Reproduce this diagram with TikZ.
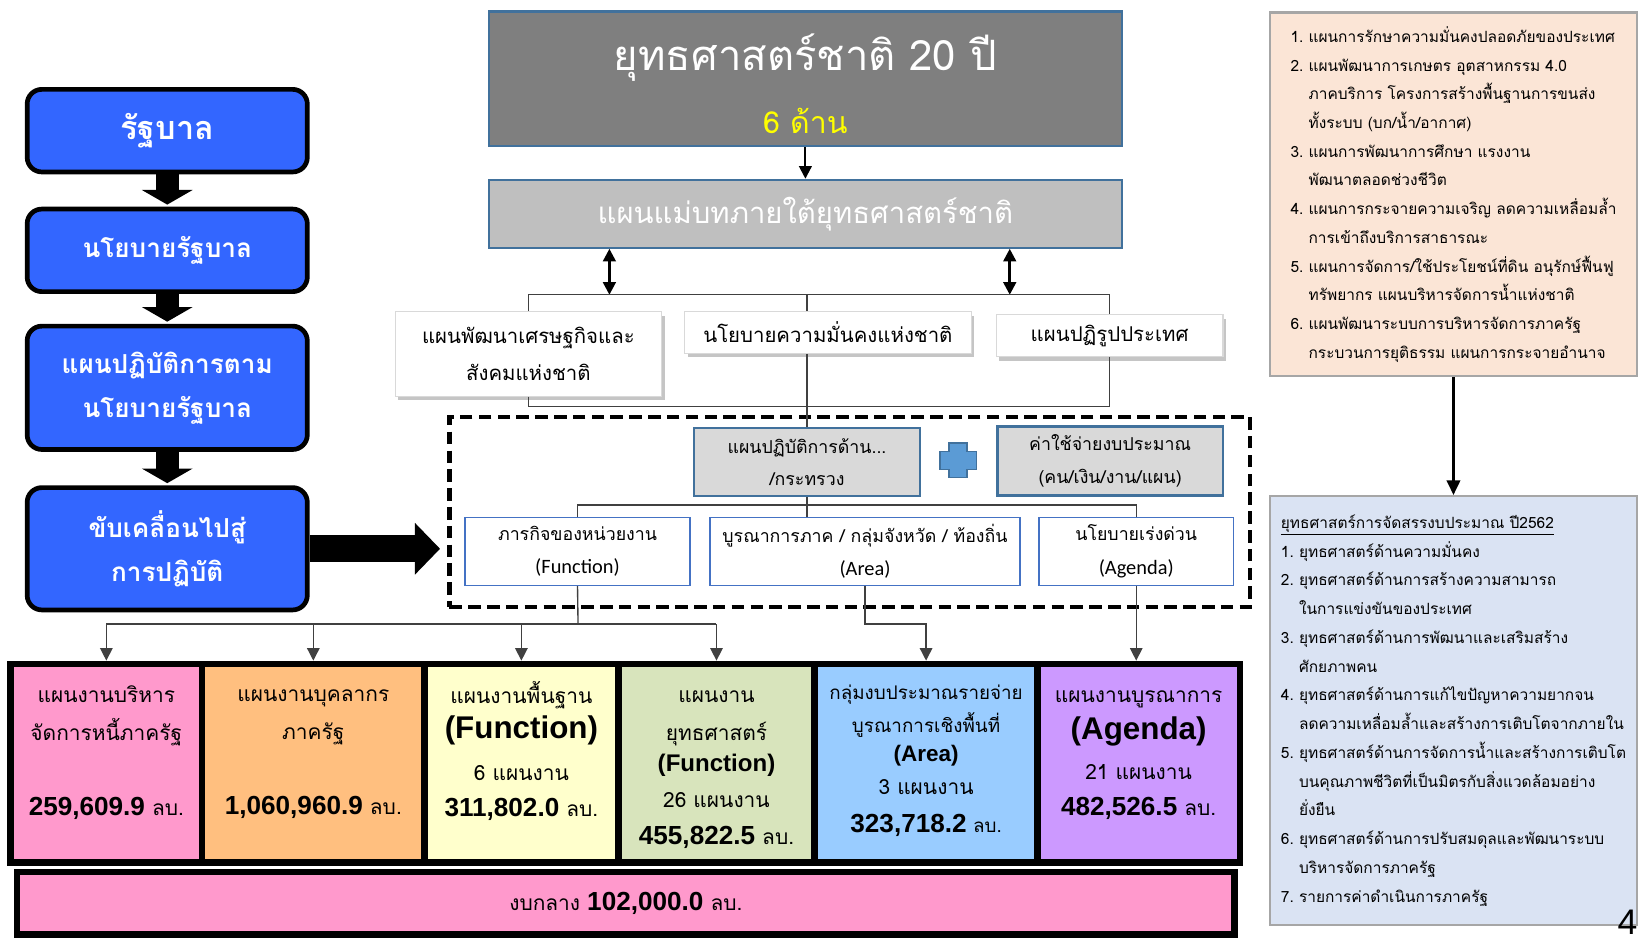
\documentclass[tikz,border=0pt]{standalone}
\usepackage{fontspec}
\setmainfont{Loma}[Script=Thai]
\newfontfamily\numfont{Liberation Sans}
\newfontfamily\calfont{Carlito}
\usetikzlibrary{positioning, calc, arrows.meta, shadows}

\definecolor{govblue}{RGB}{51,102,255}
\definecolor{stratgray}{RGB}{127,127,127}
\definecolor{mastgray}{RGB}{191,191,191}
\definecolor{plangray}{RGB}{217,217,217}
\definecolor{edgeblue}{RGB}{65,113,156}
\definecolor{lineblue}{RGB}{68,114,196}
\definecolor{plusblue}{RGB}{91,155,213}
\definecolor{sunyellow}{RGB}{255,255,0}
\definecolor{rowpink}{RGB}{255,153,204}
\definecolor{roworange}{RGB}{255,191,127}
\definecolor{rowyellow}{RGB}{255,255,204}
\definecolor{rowgreen}{RGB}{216,228,188}
\definecolor{rowblue}{RGB}{153,204,255}
\definecolor{rowpurple}{RGB}{204,153,255}
\definecolor{peach}{RGB}{251,229,214}
\definecolor{listblue}{RGB}{218,227,243}

\newcommand\amt[1]{{\numfont\bfseries\fontsize{25}{36}\selectfont #1} ลบ.}
\newcommand\fnlab[2]{{\numfont\bfseries\fontsize{#1}{36}\selectfont #2}}

\begin{document}
\begin{tikzpicture}[x=1pt, y=-1pt, >={Triangle[width=12pt, length=12pt]},
    govbox/.style={draw=black, line width=4.5pt, fill=govblue, rounded corners=14pt,
      minimum width=268pt, text=white, align=center,
      font=\bfseries\fontsize{25}{42}\selectfont},
    fatarrow/.style={line width=22pt, -{Triangle[width=48pt, length=14pt]}},
    stratbox/.style={draw=edgeblue, line width=2pt, fill=stratgray},
    wbox/.style={draw=black!15, line width=1pt, fill=white, align=center,
      drop shadow={shadow xshift=3pt, shadow yshift=-4pt, fill=black!45, opacity=0.5},
      font=\fontsize{19.5}{35}\selectfont},
    graybox/.style={draw=edgeblue, line width=2.5pt, fill=plangray, align=center,
      font=\fontsize{17}{31}\selectfont},
    ibox/.style={draw=lineblue, line width=1.5pt, fill=white, align=center,
      minimum height=65pt, font=\fontsize{17}{32}\selectfont},
    dashframe/.style={draw=black, line width=4pt, dash pattern=on 12pt off 6pt},
    tline/.style={draw=black!75, line width=1.3pt},
    rowbox/.style={draw=black, line width=6pt, minimum height=190pt},
    rowtext/.style={align=center, inner sep=0pt, font=\fontsize{20}{36}\selectfont},
    listbox/.style={draw=black!35, line width=2pt, align=left, minimum width=351pt,
      font=\fontsize{14.8}{27.5}\selectfont}]
  \useasboundingbox (0,0) rectangle (1568,899);

  \node[govbox, minimum height=79pt, font=\bfseries\fontsize{31}{42}\selectfont] (gov) at (160,125) {รัฐบาล};
  \node[govbox, minimum height=79pt] (govpol) at (160,239.5) {นโยบายรัฐบาล};
  \node[govbox, minimum height=118pt] (actplan) at (160,371) {แผนปฏิบัติการตาม\\นโยบายรัฐบาล};
  \node[govbox, minimum height=117pt] (drive) at (160,525) {ขับเคลื่อนไปสู่\\การปฏิบัติ};
  \draw[fatarrow, shorten >=2pt] (gov) -- (govpol);
  \draw[fatarrow, shorten >=2pt] (govpol) -- (actplan);
  \draw[fatarrow, shorten >=2pt] (actplan) -- (drive);

  \node[stratbox, minimum width=605pt, minimum height=129pt] (strat) at (770.5,75.5) {};
  \node[text=white, font=\fontsize{40}{48}\selectfont] (strattitle) at (770.5,55) {ยุทธศาสตร์ชาติ 20 ปี};
  \node[text=sunyellow, font=\fontsize{29}{36}\selectfont] (stratsub) at (770.5,116) {6 ด้าน};
  \node[stratbox, fill=mastgray, minimum width=605pt, minimum height=65pt, text=white,
    font=\fontsize{28}{36}\selectfont] (master) at (770.5,204.5) {แผนแม่บทภายใต้ยุทธศาสตร์ชาติ};
  \draw[line width=2pt, ->] (strat) -- (master);

  \node[wbox, minimum width=255pt, minimum height=81pt] (econ) at (505.5,338.5) {แผนพัฒนาเศรษฐกิจและ\\สังคมแห่งชาติ};
  \node[wbox, minimum width=274pt, minimum height=40pt] (secur) at (792,318) {นโยบายความมั่นคงแห่งชาติ};
  \node[wbox, minimum width=217pt, minimum height=40pt] (reform) at (1061.5,321) {แผนปฏิรูปประเทศ};

  \coordinate (topbar) at (772,282);
  \coordinate (botbar) at (772,389);
  \coordinate (dblL) at (583,282);
  \coordinate (dblR) at (966,282);
  \draw[line width=2.5pt, <->] (dblL |- master.south) -- (dblL);
  \draw[line width=2.5pt, <->] (dblR |- master.south) -- (dblR);
  \draw[tline] (econ.north) |- (topbar) -| (reform.north);
  \draw[tline] (topbar) -- (topbar |- secur.north);
  \draw[tline] (econ.south) |- (botbar) -| (reform.south);

  \node[dashframe, minimum width=766pt, minimum height=182pt] (frame) at (813,490) {};
  \node[graybox, minimum width=216pt, minimum height=65pt] (plan) at (772,442) {แผนปฏิบัติการด้าน...\\/กระทรวง};
  \node[graybox, minimum width=216pt, minimum height=66pt] (budget) at (1062,441) {ค่าใช้จ่ายงบประมาณ\\(คน/เงิน/งาน/แผน)};
  \draw[fill=plusblue, draw=edgeblue, line width=1.5pt] (908,424) -- (925,424) -- (925,432) -- (934,432)
    -- (934,449) -- (925,449) -- (925,457) -- (908,457) -- (908,449) -- (899,449) -- (899,432) -- (908,432) -- cycle;
  \draw[tline] (plan.north |- secur.south) -- (plan.north);

  \node[ibox, minimum width=215pt] (func) at (552.5,527.5) {ภารกิจของหน่วยงาน\\{\calfont\fontsize{19.5}{32}\selectfont (Function)}};
  \node[ibox, minimum width=297pt] (area) at (827.5,527.5) {บูรณาการภาค / กลุ่มจังหวัด / ท้องถิ่น\\{\calfont\fontsize{19.5}{32}\selectfont (Area)}};
  \node[ibox, minimum width=186pt] (agenda) at (1087,527.5) {นโยบายเร่งด่วน\\{\calfont\fontsize{19.5}{32}\selectfont (Agenda)}};
  \coordinate (midbar) at (772,483);
  \draw[tline] (plan.south) -- (midbar);
  \draw[tline] (func.north) |- (midbar) -| (agenda.north);
  \draw[tline] (midbar) -- (midbar |- area.north);

  \draw[line width=26pt, -{Triangle[width=48pt, length=24pt]}, shorten >=7pt] (drive) -- (drive.east -| frame.west);

  \node[rowbox, fill=rowpink, minimum width=183.5pt] (debt) at (101.75,730) {};
  \node[rowbox, fill=roworange, minimum width=212.5pt] (staff) at (299.75,730) {};
  \node[rowbox, fill=rowyellow, minimum width=185.6pt] (basic) at (498.8,730) {};
  \node[rowbox, fill=rowgreen, minimum width=187.7pt] (stratfn) at (685.45,730) {};
  \node[rowbox, fill=rowblue, minimum width=213.3pt] (areagrp) at (885.95,730) {};
  \node[rowbox, fill=rowpurple, minimum width=193.4pt] (agendagrp) at (1089.3,730) {};
  \node[rowbox, fill=rowpink, minimum width=1164.5pt, minimum height=60pt,
    font=\fontsize{20}{36}\selectfont] (central) at (598.75,864) {งบกลาง \amt{102,000.0}};

  \node[rowtext, below=24pt of debt.north] (debttx) {แผนงานบริหาร\\จัดการหนี้ภาครัฐ\\[36pt]\amt{259,609.9}};
  \node[rowtext, below=28pt of staff.north] (stafftx) {แผนงานบุคลากร\\ภาครัฐ\\[36pt]\amt{1,060,960.9}};
  \node[rowtext, below=20pt of basic.north] (basictx) {แผนงานพื้นฐาน\\[-3pt]\fnlab{30}{(Function)}\\[4pt]6 แผนงาน\\[-1pt]\amt{311,802.0}};
  \node[rowtext, below=29pt of stratfn.north] (stratfntx) {แผนงาน\\ยุทธศาสตร์\\[-6pt]\fnlab{23}{(Function)}\\[-2pt]26 แผนงาน\\[-1pt]\amt{455,822.5}};
  \node[rowtext, below=23pt of areagrp.north, font=\fontsize{18}{36}\selectfont] (areagrptx) {กลุ่มงบประมาณรายจ่าย\\[-4pt]บูรณาการเชิงพื้นที่\\[-9pt]\fnlab{21.5}{(Area)}\\[-4pt]{\fontsize{20}{36}\selectfont 3 แผนงาน}\\\amt{323,718.2}};
  \node[rowtext, below=29pt of agendagrp.north] (agendagrptx) {แผนงานบูรณาการ\\[-1pt]\fnlab{30}{(Agenda)}\\[2pt]21 แผนงาน\\[-1pt]\amt{482,526.5}};

  \coordinate (lowbar) at (553,597);
  \draw[tline] (func.south) -- (lowbar);
  \draw[tline] (debt.north |- lowbar) -- (stratfn.north |- lowbar);
  \foreach \b in {debt, staff, basic, stratfn}
    \draw[tline, ->] (\b.north |- lowbar) -- (\b.north);
  \draw[tline, ->] (area.south) -- (area.south |- lowbar) -| (areagrp.north);
  \draw[tline, ->] (agenda.south) -- (agenda.south |- agendagrp.north);

  \node[listbox, fill=peach, minimum height=348pt] (listtop) at (1390.5,186) {%
    1.~แผนการรักษาความมั่นคงปลอดภัยของประเทศ\\
    2.~แผนพัฒนาการเกษตร อุตสาหกรรม 4.0\\
    \hphantom{2.~}ภาคบริการ โครงการสร้างพื้นฐานการขนส่ง\\
    \hphantom{2.~}ทั้งระบบ (บก/น้ำ/อากาศ)\\
    3.~แผนการพัฒนาการศึกษา แรงงาน\\
    \hphantom{3.~}พัฒนาตลอดช่วงชีวิต\\
    4.~แผนการกระจายความเจริญ ลดความเหลื่อมล้ำ\\
    \hphantom{4.~}การเข้าถึงบริการสาธารณะ\\
    5.~แผนการจัดการ/ใช้ประโยชน์ที่ดิน อนุรักษ์ฟื้นฟู\\
    \hphantom{5.~}ทรัพยากร แผนบริหารจัดการน้ำแห่งชาติ\\
    6.~แผนพัฒนาระบบการบริหารจัดการภาครัฐ\\
    \hphantom{6.~}กระบวนการยุติธรรม แผนการกระจายอำนาจ};
  \node[listbox, fill=listblue, minimum height=410.5pt] (listbot) at (1390.5,679.75) {%
    \underline{ยุทธศาสตร์การจัดสรรงบประมาณ ปี2562}\\
    1.~ยุทธศาสตร์ด้านความมั่นคง\\
    2.~ยุทธศาสตร์ด้านการสร้างความสามารถ\\
    \hphantom{2.~}ในการแข่งขันของประเทศ\\
    3.~ยุทธศาสตร์ด้านการพัฒนาและเสริมสร้าง\\
    \hphantom{3.~}ศักยภาพคน\\
    4.~ยุทธศาสตร์ด้านการแก้ไขปัญหาความยากจน\\
    \hphantom{4.~}ลดความเหลื่อมล้ำและสร้างการเติบโตจากภายใน\\
    5.~ยุทธศาสตร์ด้านการจัดการน้ำและสร้างการเติบโต\\
    \hphantom{5.~}บนคุณภาพชีวิตที่เป็นมิตรกับสิ่งแวดล้อมอย่าง\\
    \hphantom{5.~}ยั่งยืน\\
    6.~ยุทธศาสตร์ด้านการปรับสมดุลและพัฒนาระบบ\\
    \hphantom{6.~}บริหารจัดการภาครัฐ\\
    7.~รายการค่าดำเนินการภาครัฐ};
  \draw[line width=2pt, -{Triangle[width=13pt, length=14pt]}] (listtop) -- (listbot);

  \node[font=\numfont\fontsize{34}{40}\selectfont] (pagenum) at (1557,882) {4};
\end{tikzpicture}
\end{document}
